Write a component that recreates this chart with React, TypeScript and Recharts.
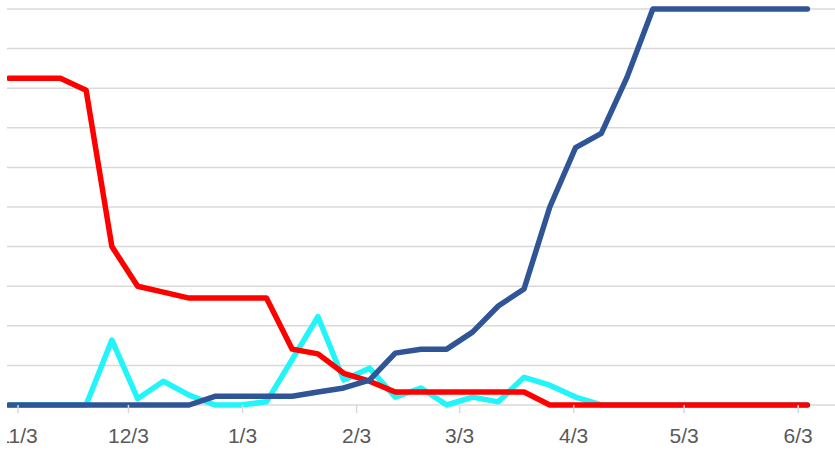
import { LineChart, Line, XAxis, YAxis, CartesianGrid } from 'recharts';

// weekly sample dates (m/d/yyyy)
const weeks = [
  '10/31/2020', '11/7/2020', '11/14/2020', '11/21/2020', '11/28/2020', '12/5/2020',
  '12/12/2020', '12/19/2020', '12/26/2020', '1/2/2021', '1/9/2021', '1/16/2021',
  '1/23/2021', '1/30/2021', '2/6/2021', '2/13/2021', '2/20/2021', '2/27/2021',
  '3/6/2021', '3/13/2021', '3/20/2021', '3/27/2021', '4/3/2021', '4/10/2021',
  '4/17/2021', '4/24/2021', '5/1/2021', '5/8/2021', '5/15/2021', '5/22/2021',
  '5/29/2021', '6/5/2021',
];

const redValues = [
  8.25, 8.25, 8.25, 7.95, 4.0, 3.0, 2.85, 2.7, 2.7, 2.7, 2.7, 1.41, 1.29, 0.8, 0.6, 0.33,
  0.33, 0.33, 0.33, 0.33, 0.33, 0, 0, 0, 0, 0, 0, 0, 0, 0, 0, 0,
];

const blueValues = [
  0, 0, 0, 0, 0, 0, 0, 0, 0.22, 0.22, 0.22, 0.22, 0.33, 0.43, 0.63, 1.31,
  1.41, 1.41, 1.84, 2.5, 2.93, 5.0, 6.5, 6.86, 8.28, 10, 10, 10, 10, 10, 10, 10,
];

const cyanValues = [
  0, 0, 0, 0, 1.64, 0.16, 0.6, 0.25, 0, 0, 0.08, 1.15, 2.23, 0.63, 0.93, 0.2,
  0.43, 0, 0.2, 0.08, 0.7, 0.5, 0.2, 0, 0, 0, 0, 0, 0, 0, 0, 0,
];

const tickDates = ['11/3/2020', '12/3/2020', '1/3/2021', '2/3/2021', '3/3/2021', '4/3/2021', '5/3/2021', '6/3/2021'];
const yTicks = [0, 1, 2, 3, 4, 5, 6, 7, 8, 9, 10];

const DAY = 86400000;
const toUtc = (s: string) => {
  const [m, d, y] = s.split('/').map(Number);
  return Date.UTC(y, m - 1, d);
};
const origin = toUtc(tickDates[0]);
const dayOf = (s: string) => Math.round((toUtc(s) - origin) / DAY);

// points sit in the middle of their day, like an Excel date axis
const data = weeks.map((w, i) => ({
  x: dayOf(w) + 0.5,
  red: redValues[i],
  blue: blueValues[i],
  cyan: cyanValues[i],
}));

const ticks = tickDates.map(dayOf);
const tickLabel = (v: number) => {
  const i = ticks.indexOf(v);
  if (i < 0) return '';
  const [m, d] = tickDates[i].split('/');
  return `${m}/${d}`;
};

export default function App() {
  // the reference is a crop of a wider chart: cut it at the plot's left edge
  return (
    <div style={{ position: 'absolute', left: 0, top: 0, width: 835, height: 456, background: '#fff' }}>
      <div style={{ position: 'absolute', left: 7, top: 0, width: 828, height: 456, overflow: 'hidden' }}>
        <LineChart width={828} height={456} data={data} margin={{ top: 9, right: 0, left: 0, bottom: 0 }}>
          <CartesianGrid vertical={false} stroke="#d9d9d9" strokeWidth={1.5} />
          <XAxis
            dataKey="x"
            type="number"
            domain={[-3, 222]}
            ticks={ticks}
            interval={0}
            tickFormatter={tickLabel}
            height={51}
            axisLine={false}
            tickLine={{ stroke: '#d9d9d9', strokeWidth: 1.5 }}
            tickSize={8}
            tickMargin={15}
            tick={{ fill: '#595959', fontSize: 21, fontFamily: 'Liberation Sans' }}
          />
          <YAxis hide domain={[0, 10]} ticks={yTicks} />
          <Line
            dataKey="cyan"
            stroke="#21f5f9"
            strokeWidth={5.5}
            dot={false}
            strokeLinejoin="round"
            strokeLinecap="round"
            isAnimationActive={false}
          />
          <Line
            dataKey="red"
            stroke="#ff0000"
            strokeWidth={5.5}
            dot={false}
            strokeLinejoin="round"
            strokeLinecap="round"
            isAnimationActive={false}
          />
          <Line
            dataKey="blue"
            stroke="#2f5597"
            strokeWidth={5.5}
            dot={false}
            strokeLinejoin="round"
            strokeLinecap="round"
            isAnimationActive={false}
          />
        </LineChart>
      </div>
    </div>
  );
}
